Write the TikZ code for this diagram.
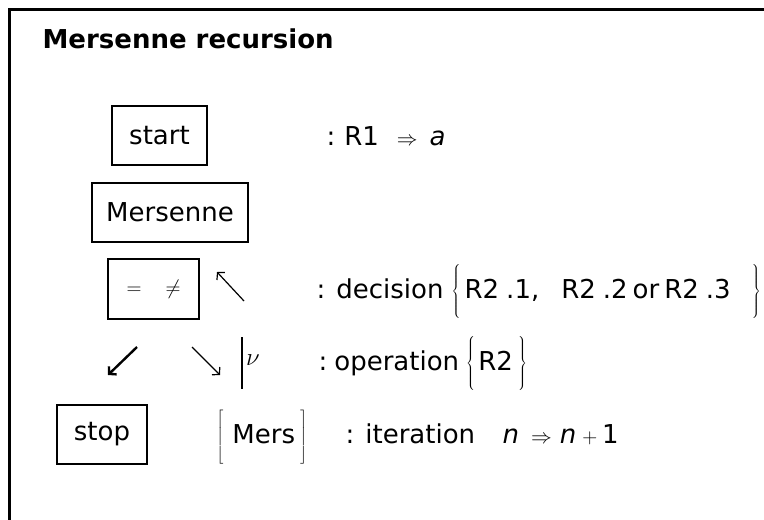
\documentclass[tikz,border=0pt]{standalone}
\usepackage{fontspec}
\setmainfont{DejaVu Sans}
\usetikzlibrary{arrows.meta}

\newcommand{\tallrule}{\vrule height 30pt depth 22pt width 0pt}
\newcommand{\smallsym}[1]{{\fontsize{21}{24}\selectfont$#1$}}
\newcommand{\tallpair}[2]{\smash{$\left#1\tallrule\right.$}#2}
\newcommand{\tallend}[1]{\smash{$\left.\tallrule\right#1$}}

\begin{document}
\begin{tikzpicture}[x=1pt,y=-1pt,->,>={Straight Barb[length=5pt,width=11pt]},
                    line width=1.2pt,
                    every node/.style={inner sep=0pt,font=\fontsize{26}{30}\selectfont}]
  \tikzstyle{box}=[draw,line width=1.8pt,minimum height=59pt]
  \tikzstyle{txt}=[anchor=base west]

  \useasboundingbox (0,0) rectangle (764,520);
  \draw[-,line width=2.6pt] (9.5,520) |- (764,9.5);

  \node[txt,font=\fontsize{26}{30}\selectfont\bfseries] (title) at (42,48) {Mersenne recursion};

  % boxes
  \node[box,minimum width=95pt]  (start) at (159.5,135.5) {start};
  \node[box,minimum width=156pt] (mers)  at (170,212.5)   {Mersenne};
  \node[box,minimum width=91pt,minimum height=60pt,font=\fontsize{20}{24}\selectfont]
                                 (dec)   at (153.5,289)   {$=\hspace{24pt}\neq$};
  \node[box,minimum width=90pt]  (stop)  at (102,434.5)   {stop};

  % arrows
  \coordinate (backA) at (244,301);
  \coordinate (backB) at (217,272);
  \coordinate (noA)   at (137,347);
  \coordinate (noB)   at (108,375);
  \coordinate (yesA)  at (192,347);
  \coordinate (yesB)  at (220,375);
  \coordinate (barT)  at (242,337);
  \coordinate (barB)  at (242,389);

  \draw (backA) -- (backB);
  \draw[line width=2.4pt] (noA) -- (noB);
  \draw (yesA) -- (yesB);
  \draw[-,line width=2pt] (barT) -- (barB);
  \node (nu) at (253,360) {$\nu$};

  % legend
  \node[txt] (r1)   at (326,145) {:\hspace{9pt}R1\hspace{18pt}\smallsym{\Rightarrow}\hspace{12pt}\textit{a}};
  \node[txt] (decT) at (316,298) {: decision\hspace{8pt}\tallpair\{{\hspace{3pt}R2\hspace{7pt}.1,\hspace{22pt}R2\hspace{7pt}.2\hspace{5pt}or\hspace{5pt}R2\hspace{7pt}.3\hspace{20pt}}\tallend\}};
  \node[txt] (opT)  at (318,370) {:\hspace{7pt}operation\hspace{7pt}\tallpair\{{\hspace{2pt}R2\hspace{4pt}}\tallend\}};
  \node[txt] (iterB) at (216,443) {\tallpair[{\hspace{8pt}Mers\hspace{4pt}}\tallend]};
  \node[txt] (iterT) at (345,443) {: iteration};
  \node[txt] (inc)   at (502,443) {\textit{n}\hspace{12pt}\smallsym{\Rightarrow}\hspace{8pt}\textit{n}\hspace{6pt}\smallsym{+}\hspace{5pt}1};
\end{tikzpicture}
\end{document}
